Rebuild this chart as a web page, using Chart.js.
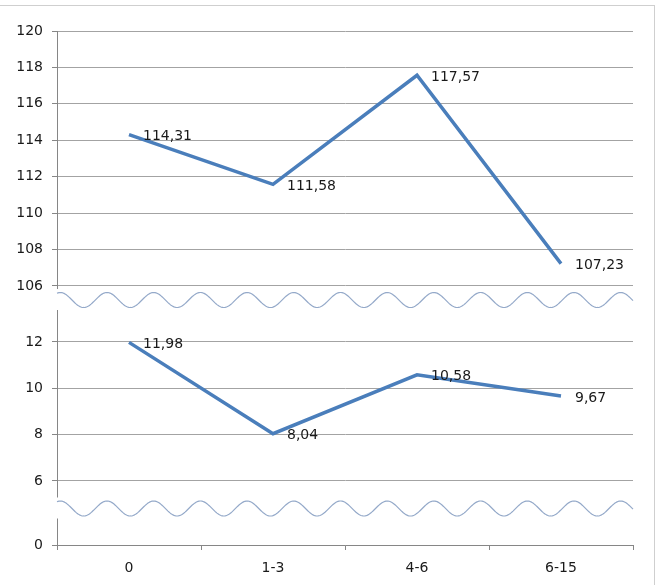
<!DOCTYPE html>
<html>
<head>
<meta charset="utf-8">
<script src="https://cdn.jsdelivr.net/npm/chart.js@4.4.1/dist/chart.umd.min.js"></script>
<style>
  body { margin: 0; background: #fff; }
  #wrap { width: 663px; height: 585px; }
</style>
</head>
<body>
<div id="wrap"><canvas id="chart" width="663" height="585"></canvas></div>
<script>
// дані
const categories = ["0", "1-3", "4-6", "6-15"];
const upperValues = [114.31, 111.58, 117.57, 107.23];
const lowerValues = [11.98, 8.04, 10.58, 9.67];
const upperTicks = [106, 108, 110, 112, 114, 116, 118, 120];
const middleTicks = [6, 8, 10, 12];
const bottomTicks = [0];

const font = { family: "'DejaVu Sans'", size: 14 };
const gridColor = "#a3a3a3";
const axisColor = "#868686";

// рамка навколо діаграми
const frame = {
  id: "frame",
  beforeDraw(chart) {
    const ctx = chart.ctx;
    ctx.save();
    ctx.fillStyle = "#fff";
    ctx.fillRect(0, 0, chart.width, chart.height);
    ctx.strokeStyle = "#cfcfcf";
    ctx.lineWidth = 1;
    ctx.strokeRect(-0.5, 5.5, 655, 600);
    ctx.restore();
  },
};

// хвилясті лінії розриву осі
const breakWaves = {
  id: "breakWaves",
  afterDraw(chart) {
    const ctx = chart.ctx;
    const area = chart.chartArea;
    [chart.scales.yTop.bottom, chart.scales.yMid.bottom].forEach((yc) => {
      ctx.save();
      ctx.fillStyle = "#fff";
      ctx.fillRect(area.left - 3, yc - 11, 6, 21);
      ctx.beginPath();
      for (let x = area.left; x <= area.right; x++) {
        const y = yc - 7.5 * Math.cos((2 * Math.PI * (x - area.left - 3.3)) / 46.7);
        if (x === area.left) ctx.moveTo(x, y);
        else ctx.lineTo(x, y);
      }
      ctx.strokeStyle = "#94a9c9";
      ctx.lineWidth = 1.2;
      ctx.stroke();
      ctx.restore();
    });
  },
};

// підписи значень
const valueLabels = {
  id: "valueLabels",
  afterDatasetsDraw(chart) {
    const ctx = chart.ctx;
    ctx.save();
    ctx.font = "14px 'DejaVu Sans'";
    ctx.fillStyle = "#1a1a1a";
    ctx.textBaseline = "middle";
    chart.data.datasets.forEach((ds, i) => {
      chart.getDatasetMeta(i).data.forEach((pt, j) => {
        ctx.fillText(ds.data[j].toFixed(2).replace(".", ","), pt.x + 14, pt.y + 2);
      });
    });
    ctx.restore();
  },
};

function yAxis(min, max, ticks, weight, order) {
  return {
    type: "linear",
    position: "left",
    stack: "broken",
    stackWeight: weight,
    weight: order,
    min: min,
    max: max,
    afterBuildTicks: (scale) => {
      scale.ticks = ticks.map((v) => ({ value: v }));
    },
    afterFit: (scale) => {
      scale.width = 57;
    },
    grid: { color: gridColor, tickLength: 5, tickColor: axisColor },
    border: { color: axisColor },
    ticks: { font: font, color: "#1a1a1a", padding: 9 },
  };
}

const ctx = document.getElementById("chart").getContext("2d");
new Chart(ctx, {
  type: "line",
  data: {
    labels: categories,
    datasets: [
      { data: upperValues, yAxisID: "yTop" },
      { data: lowerValues, yAxisID: "yMid" },
    ],
  },
  options: {
    responsive: false,
    animation: false,
    layout: { padding: { left: 0, top: 31, right: 30, bottom: 0 } },
    elements: {
      line: { borderColor: "#4a7ebb", borderWidth: 3.5, tension: 0 },
      point: { radius: 0 },
    },
    plugins: { legend: { display: false }, tooltip: { enabled: false } },
    scales: {
      x: {
        type: "category",
        offset: true,
        afterFit: (scale) => {
          scale.height = 40;
        },
        grid: { offset: true, drawOnChartArea: false, tickLength: 5, color: axisColor },
        border: { color: axisColor },
        ticks: { font: font, color: "#1a1a1a", padding: 10 },
      },
      yTop: yAxis(105.23, 120, upperTicks, 269, 3),
      yMid: yAxis(4.81, 13.81, middleTicks, 208.5, 2),
      yLow: yAxis(0, 1.58, bottomTicks, 36.5, 1),
    },
  },
  plugins: [frame, breakWaves, valueLabels],
});
</script>
</body>
</html>
